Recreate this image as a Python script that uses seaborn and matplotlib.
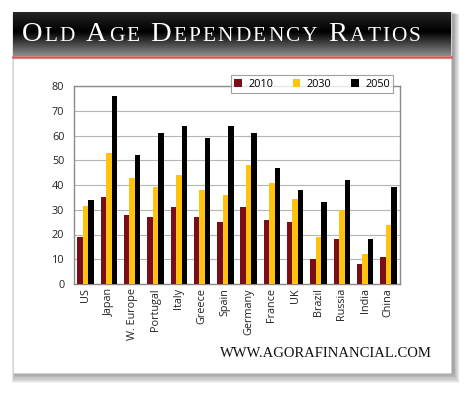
import numpy as np
import pandas as pd
import matplotlib
matplotlib.use("Agg")
import matplotlib.pyplot as plt
import matplotlib.patches as mpatches
import seaborn as sns

# ── Data ──────────────────────────────────────────────────────────────────────
countries = ["US", "Japan", "W. Europe", "Portugal", "Italy", "Greece", "Spain",
             "Germany", "France", "UK", "Brazil", "Russia", "India", "China"]
years = ["2010", "2030", "2050"]
v2010 = [19, 35, 28, 27, 31, 27, 25, 31, 26, 25, 10, 18, 8, 11]
v2030 = [31.5, 53, 43, 39, 44, 38, 36, 48, 41, 34.5, 19, 30, 12, 24]
v2050 = [34, 76, 52, 61, 64, 59, 64, 61, 47, 38, 33, 42, 18, 39]
colors = ["#7A0E16", "#FFC20F", "#000000"]
y_ticks = list(range(0, 81, 10))

df = pd.DataFrame({
    "country": countries * 3,
    "year": [y for y in years for _ in countries],
    "value": v2010 + v2030 + v2050,
})

W, H = 470, 393
fig = plt.figure(figsize=(W / 100, H / 100), dpi=100)
fig.patch.set_facecolor("white")


def fx(px):
    return px / W


def fy(py):
    return 1 - py / H


# ── Card with drop shadow (kept below the axes) ───────────────────────────────
card_l, card_t, card_r, card_b = 13, 12, 451, 373
for i in range(8, 0, -1):
    fig.patches.append(mpatches.Rectangle(
        (fx(card_l - i * 0.4 + 2), fy(card_b + i * 1.3)),
        fx(card_r - card_l + i * 1.2), (card_b - card_t + i * 1.0) / H,
        transform=fig.transFigure, facecolor="black", alpha=0.05,
        edgecolor="none", zorder=-3))
fig.patches.append(mpatches.Rectangle(
    (fx(card_l), fy(card_b)), fx(card_r - card_l), (card_b - card_t) / H,
    transform=fig.transFigure, facecolor="white", edgecolor="#cfcfcf",
    lw=0.5, zorder=-2))

# ── Title bar with gradient ───────────────────────────────────────────────────
bar_b = 56
tax = fig.add_axes([fx(card_l), fy(bar_b), fx(card_r - card_l), (bar_b - card_t) / H])
t = np.linspace(0, 1, 100)
shade = np.where(t < 0.45, 0.15 * (1 - t / 0.45), (t - 0.45) / 0.55 * 0.55)
tax.imshow(shade[:, None], aspect="auto", cmap="gray", vmin=0, vmax=1,
           extent=[0, 1, 0, 1], origin="upper")
tax.set_axis_off()
fig.add_artist(plt.Line2D([fx(card_l), fx(card_r)], [fy(57), fy(57)],
                          color="#D4585A", lw=1.8, zorder=5))

# small caps title, letter by letter with light tracking to fill the bar
renderer = fig.canvas.get_renderer()
title_font = "Liberation Serif"
title_l, title_r = 22, 421
word_gap = 11
big, small = 20.5, 15.3
glyphs = []
for word in "Old Age Dependency Ratios".split():
    glyphs.append([(c.upper(), big if i == 0 else small) for i, c in enumerate(word)])


def glyph_width(c, size):
    tt = fig.text(0, 0, c, fontsize=size, family=title_font)
    w = tt.get_window_extent(renderer).width
    tt.remove()
    return w


widths = [[glyph_width(c, s) for c, s in word] for word in glyphs]
n_gaps = sum(len(w) - 1 for w in widths)
used = sum(sum(w) for w in widths) + word_gap * (len(widths) - 1)
track = (title_r - title_l - used) / n_gaps

x = title_l
for word, ws in zip(glyphs, widths):
    for (c, s), w in zip(word, ws):
        fig.text(fx(x), fy(41), c, fontsize=s, color="white",
                 family=title_font, va="baseline", ha="left", zorder=6)
        x += w + track
    x += word_gap - track

# ── Bar chart ─────────────────────────────────────────────────────────────────
ax = fig.add_axes([fx(74), fy(284), fx(400 - 74), (284 - 86) / H])
sns.barplot(data=df, x="country", y="value", hue="year", palette=colors,
            saturation=1, width=0.7, ax=ax, errorbar=None, zorder=3)
ax.set_xlim(-0.5, len(countries) - 0.5)
ax.set_ylim(0, 80)
ax.set_yticks(y_ticks)
ax.set_xlabel("")
ax.set_ylabel("")
ax.yaxis.grid(True, color="#b5b5b5", lw=0.8, zorder=0)
ax.set_axisbelow(True)
for sp in ax.spines.values():
    sp.set_color("#8a8a8a")
    sp.set_linewidth(1.0)
ax.tick_params(axis="y", length=0, pad=7, labelsize=7.8, labelcolor="#222222")
ax.tick_params(axis="x", length=0, pad=3, labelsize=7.8, labelcolor="#222222",
               labelrotation=90)
for lab in ax.get_xticklabels() + ax.get_yticklabels():
    lab.set_family("Open Sans")

leg = ax.legend(loc="center", bbox_to_anchor=(0.73, 1.01), ncol=3,
                frameon=True, fancybox=False, edgecolor="#8a8a8a",
                handlelength=0.7, handleheight=0.7, handletextpad=0.6,
                columnspacing=1.8, borderpad=0.35,
                prop={"family": "Open Sans", "size": 7.8})
leg.get_frame().set_linewidth(0.8)
leg.set_zorder(10)

fig.text(fx(432), fy(357), "WWW.AGORAFINANCIAL.COM", fontsize=10.5,
         family="Liberation Serif", color="#111111", ha="right", va="baseline")

plt.savefig("out.png", dpi=100)
plt.close()
